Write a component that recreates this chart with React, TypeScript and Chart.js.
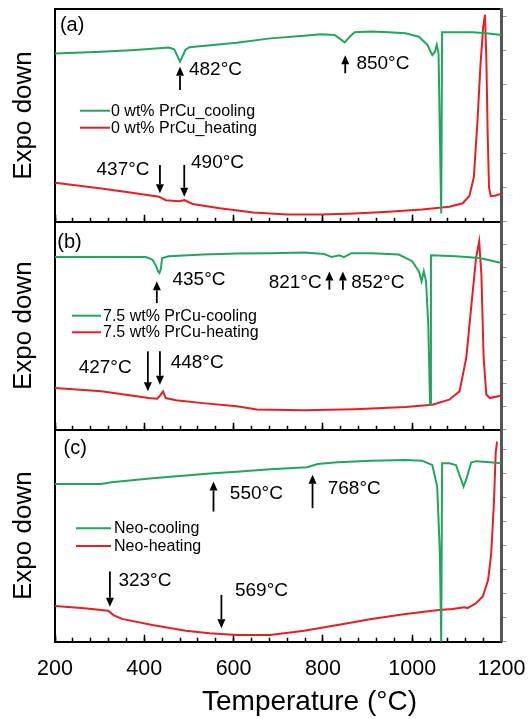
import React, { useEffect, useRef } from 'react';
import { Chart, registerables } from 'chart.js';

Chart.register(...registerables);

const FONT = '"Liberation Sans", Arial, Helvetica, sans-serif';
const GREEN = 'rgb(34,166,92)';
const RED = 'rgb(232,30,34)';

// ---------- Data (temperature °C, signal in arbitrary units) ----------
// Panel (a) 0 wt% PrCu
const aCoolT = [200, 304, 380, 455, 467, 474, 480, 486, 492, 501, 607, 682, 758, 796, 826, 837, 849, 860, 871, 909, 947, 985, 1015, 1034, 1045, 1051, 1055, 1059, 1062, 1065, 1067, 1136, 1166, 1200];
const aCoolV = [4.92, 4.97, 5.02, 5.09, 5.04, 4.85, 4.68, 4.85, 5.02, 5.1, 5.23, 5.36, 5.44, 5.48, 5.46, 5.36, 5.24, 5.41, 5.54, 5.56, 5.54, 5.51, 5.41, 5.17, 4.87, 4.97, 5.17, 4.92, 2.58, 0.24, 5.54, 5.54, 5.51, 5.46];
const aHeatT = [200, 304, 380, 433, 448, 478, 490, 508, 569, 644, 720, 796, 871, 947, 1022, 1083, 1113, 1128, 1138, 1146, 1153, 1159, 1163, 1166, 1169, 1172, 1176, 1185, 1200];
const aHeatV = [1.14, 0.97, 0.83, 0.73, 0.63, 0.6, 0.63, 0.52, 0.39, 0.27, 0.21, 0.21, 0.24, 0.29, 0.36, 0.44, 0.54, 0.75, 1.3, 2.9, 4.6, 5.7, 6.05, 4.8, 2.6, 1.0, 0.75, 0.76, 0.82];

// Panel (b) 7.5 wt% PrCu
const bCoolT = [200, 304, 403, 418, 426, 431, 434, 437, 440, 455, 531, 607, 682, 758, 803, 820, 830, 837, 847, 864, 909, 970, 1000, 1015, 1021, 1026, 1031, 1036, 1040, 1042, 1098, 1151, 1200];
const bCoolV = [7.47, 7.47, 7.47, 7.36, 7.1, 6.85, 6.78, 6.95, 7.43, 7.5, 7.58, 7.62, 7.64, 7.67, 7.6, 7.47, 7.52, 7.55, 7.47, 7.64, 7.64, 7.58, 7.29, 6.85, 6.42, 6.85, 6.42, 4.55, 1.08, 7.55, 7.5, 7.43, 7.21];
const bHeatT = [200, 304, 410, 429, 437, 442, 448, 471, 531, 607, 652, 758, 871, 985, 1045, 1083, 1106, 1121, 1132, 1143, 1150, 1155, 1160, 1166, 1174, 1200];
const bHeatV = [1.8, 1.66, 1.37, 1.34, 1.52, 1.66, 1.37, 1.27, 1.15, 1.01, 0.87, 0.84, 0.89, 0.98, 1.08, 1.3, 1.66, 3.1, 5.27, 7.43, 8.15, 6.71, 3.1, 1.52, 1.37, 1.48];

// Panel (c) Neo
const cCoolT = [200, 304, 327, 418, 493, 554, 607, 682, 765, 788, 833, 909, 985, 1022, 1045, 1056, 1062, 1065, 1067, 1083, 1098, 1107, 1115, 1122, 1132, 1143, 1174, 1200];
const cCoolV = [6.57, 6.57, 6.64, 6.81, 6.92, 7.02, 7.08, 7.18, 7.27, 7.4, 7.47, 7.54, 7.57, 7.54, 7.36, 6.46, 3.68, 0.0, 7.43, 7.43, 7.36, 6.88, 6.46, 6.81, 7.46, 7.52, 7.47, 7.43];
const cHeatT = [200, 266, 319, 331, 350, 418, 493, 546, 607, 682, 758, 833, 909, 985, 1060, 1090, 1117, 1124, 1143, 1158, 1170, 1177, 1183, 1187, 1190];
const cHeatV = [1.49, 1.39, 1.29, 1.11, 0.95, 0.7, 0.46, 0.35, 0.28, 0.28, 0.46, 0.7, 0.95, 1.15, 1.32, 1.36, 1.43, 1.4, 1.6, 1.88, 2.57, 3.68, 5.77, 7.85, 8.33];

// Series labels
const aLabels = ['0 wt% PrCu_cooling', '0 wt% PrCu_heating'];
const bLabels = ['7.5 wt% PrCu-cooling', '7.5 wt% PrCu-heating'];
const cLabels = ['Neo-cooling', 'Neo-heating'];

// Axis
const X_MIN = 200;
const X_MAX = 1200;
const X_MINOR_STEP = 40;
const X_MAJOR_STEP = 200;
const X_TITLE = 'Temperature (°C)';
const Y_TITLE = 'Expo down';

// Annotated transition temperatures (arrow at temperature t, from -> to in signal units)
const aArrows = [
  { t: 480, from: 3.85, to: 4.53 },
  { t: 850, from: 4.34, to: 4.87 },
  { t: 435, from: 1.66, to: 0.83 },
  { t: 489.5, from: 1.66, to: 0.73 },
];
const aNotes = [
  { t: 500, v: 4.44, text: '482°C' },
  { t: 875, v: 4.63, text: '850°C' },
  { t: 293, v: 1.51, text: '437°C' },
  { t: 504.6, v: 1.71, text: '490°C' },
];
const bArrows = [
  { t: 428, from: 5.48, to: 6.42 },
  { t: 814.5, from: 6.06, to: 6.85 },
  { t: 844.8, from: 6.06, to: 6.85 },
  { t: 408, from: 3.39, to: 1.66 },
  { t: 435, from: 3.39, to: 1.95 },
];
const bNotes = [
  { t: 463, v: 6.49, text: '435°C' },
  { t: 678.5, v: 6.35, text: '821°C' },
  { t: 863.7, v: 6.35, text: '852°C' },
  { t: 253, v: 2.67, text: '427°C' },
  { t: 459, v: 2.89, text: '448°C' },
];
const cArrows = [
  { t: 555, from: 5.42, to: 6.67 },
  { t: 776.8, from: 5.56, to: 6.95 },
  { t: 323, from: 2.92, to: 1.46 },
  { t: 572.7, from: 1.95, to: 0.56 },
];
const cNotes = [
  { t: 591.6, v: 6.18, text: '550°C' },
  { t: 810.8, v: 6.35, text: '768°C' },
  { t: 342, v: 2.54, text: '323°C' },
  { t: 603, v: 2.13, text: '569°C' },
];

// ---------- Layout (pixels) ----------
const W = 531;
const H = 719;
const PLOT_LEFT = 55;
const PLOT_RIGHT = 501.5;

type Panel = {
  key: string;
  tag: string;
  tagPos: { t: number; v: number };
  top: number;
  bottom: number;
  yMax: number;
  coolT: number[];
  coolV: number[];
  heatT: number[];
  heatV: number[];
  labels: string[];
  arrows: { t: number; from: number; to: number }[];
  notes: { t: number; v: number; text: string }[];
  legend: { x0: number; x1: number; tx: number; y1: number; y2: number };
  isBottom: boolean;
};

const panels: Panel[] = [
  {
    key: 'a', tag: '(a)', tagPos: { t: 211, v: 5.75 }, top: 9.3, bottom: 221.7, yMax: 6.21,
    coolT: aCoolT, coolV: aCoolV, heatT: aHeatT, heatV: aHeatV, labels: aLabels,
    arrows: aArrows, notes: aNotes,
    legend: { x0: 80, x1: 110, tx: 111, y1: 110.7, y2: 127.7 }, isBottom: false,
  },
  {
    key: 'b', tag: '(b)', tagPos: { t: 205, v: 8.08 }, top: 221.7, bottom: 429.7, yMax: 9.0,
    coolT: bCoolT, coolV: bCoolV, heatT: bHeatT, heatV: bHeatV, labels: bLabels,
    arrows: bArrows, notes: bNotes,
    legend: { x0: 72, x1: 101, tx: 103, y1: 315.7, y2: 332.3 }, isBottom: false,
  },
  {
    key: 'c', tag: '(c)', tagPos: { t: 219, v: 8.06 }, top: 429.7, bottom: 641.7, yMax: 8.83,
    coolT: cCoolT, coolV: cCoolV, heatT: cHeatT, heatV: cHeatV, labels: cLabels,
    arrows: cArrows, notes: cNotes,
    legend: { x0: 76, x1: 111, tx: 114, y1: 528.3, y2: 546 }, isBottom: true,
  },
];

const toXY = (xs: number[], ys: number[]) => xs.map((x, i) => ({ x, y: ys[i] }));

function PanelChart({ panel }: { panel: Panel }) {
  const ref = useRef<HTMLCanvasElement>(null);

  useEffect(() => {
    const p = panel;
    const overlay = {
      id: 'overlay' + p.key,
      afterDatasetsDraw(chart: any) {
        const { ctx } = chart;
        const xs = chart.scales.x;
        const ys = chart.scales.y;
        ctx.save();
        // arrows
        ctx.strokeStyle = '#000';
        ctx.fillStyle = '#000';
        ctx.lineWidth = 1.8;
        for (const a of p.arrows) {
          const px = xs.getPixelForValue(a.t);
          const y1 = ys.getPixelForValue(a.from);
          const y2 = ys.getPixelForValue(a.to);
          const dir = Math.sign(y2 - y1);
          const hl = 9;
          const hw = 4;
          ctx.beginPath();
          ctx.moveTo(px, y1);
          ctx.lineTo(px, y2 - dir * hl);
          ctx.stroke();
          ctx.beginPath();
          ctx.moveTo(px, y2);
          ctx.lineTo(px - hw, y2 - dir * hl);
          ctx.lineTo(px + hw, y2 - dir * hl);
          ctx.closePath();
          ctx.fill();
        }
        // temperature notes
        ctx.font = `19px ${FONT}`;
        ctx.textAlign = 'left';
        ctx.textBaseline = 'middle';
        for (const n of p.notes) {
          ctx.fillText(n.text, xs.getPixelForValue(n.t), ys.getPixelForValue(n.v));
        }
        // panel tag
        ctx.font = `20px ${FONT}`;
        ctx.fillText(p.tag, xs.getPixelForValue(p.tagPos.t), ys.getPixelForValue(p.tagPos.v));
        // legend
        ctx.font = `16px ${FONT}`;
        const rows = [p.legend.y1, p.legend.y2];
        chart.data.datasets.forEach((ds: any, i: number) => {
          const yy = rows[i];
          ctx.strokeStyle = ds.borderColor;
          ctx.lineWidth = 2;
          ctx.beginPath();
          ctx.moveTo(p.legend.x0, yy);
          ctx.lineTo(p.legend.x1, yy);
          ctx.stroke();
          ctx.fillStyle = '#000';
          ctx.fillText(ds.label, p.legend.tx, yy + 0.5);
        });
        // x-axis title (bottom panel only)
        if (p.isBottom) {
          ctx.font = `28px ${FONT}`;
          ctx.textAlign = 'center';
          ctx.fillStyle = '#000';
          ctx.fillText(X_TITLE, xs.getPixelForValue(770), chart.chartArea.bottom + 61);
        }
        ctx.restore();
      },
    };

    const chart = new Chart(ref.current as HTMLCanvasElement, {
      type: 'line',
      data: {
        datasets: [
          {
            label: p.labels[0],
            data: toXY(p.coolT, p.coolV),
            borderColor: GREEN,
            backgroundColor: GREEN,
            borderWidth: 2,
            pointRadius: 0,
            tension: 0,
            fill: false,
          },
          {
            label: p.labels[1],
            data: toXY(p.heatT, p.heatV),
            borderColor: RED,
            backgroundColor: RED,
            borderWidth: 2,
            pointRadius: 0,
            tension: 0,
            fill: false,
          },
        ],
      },
      options: {
        animation: false,
        responsive: false,
        events: [],
        layout: { padding: { top: p.top, bottom: p.isBottom ? 0 : H - p.bottom, left: 0, right: 0 } },
        plugins: {
          legend: { display: false },
          tooltip: { enabled: false },
          title: { display: false },
        },
        scales: {
          x: {
            type: 'linear',
            position: 'bottom',
            weight: 0,
            min: X_MIN,
            max: X_MAX,
            ticks: { display: false, stepSize: X_MINOR_STEP, autoSkip: false },
            grid: { drawOnChartArea: false, drawTicks: true, tickLength: -4, tickColor: '#000', tickWidth: 1.5 },
            border: { display: true, color: '#000', width: 2 },
            afterFit: (s: any) => { s.height = 0; s.paddingLeft = 0; s.paddingRight = 0; },
          },
          xM: {
            type: 'linear',
            position: 'bottom',
            weight: 1,
            min: X_MIN,
            max: X_MAX,
            ticks: {
              display: p.isBottom,
              stepSize: X_MAJOR_STEP,
              autoSkip: false,
              maxRotation: 0,
              padding: 21,
              color: '#000',
              font: { family: FONT, size: 21.5 },
              callback: (v: any) => String(v),
            },
            grid: { drawOnChartArea: false, drawTicks: true, tickLength: -7, tickColor: '#000', tickWidth: 1.5 },
            border: { display: false },
            afterFit: (s: any) => {
              s.height = p.isBottom ? H - p.bottom : 0;
              s.paddingLeft = 0;
              s.paddingRight = 0;
            },
          },
          xT: {
            type: 'linear',
            position: 'top',
            min: X_MIN,
            max: X_MAX,
            ticks: { display: false },
            grid: { display: false },
            border: { display: true, color: '#000', width: 2 },
            afterFit: (s: any) => { s.height = 0; s.paddingLeft = 0; s.paddingRight = 0; },
          },
          y: {
            type: 'linear',
            position: 'left',
            min: 0,
            max: p.yMax,
            ticks: { display: false },
            grid: { display: false },
            border: { display: true, color: '#000', width: 2 },
            title: {
              display: true,
              text: Y_TITLE,
              color: '#000',
              font: { family: FONT, size: 26 },
              padding: { top: 8.4, bottom: 0 },
            },
            afterFit: (s: any) => { s.width = PLOT_LEFT; },
          },
          yR: {
            type: 'linear',
            position: 'right',
            min: 0,
            max: p.yMax,
            ticks: { display: false, stepSize: 1, includeBounds: false },
            grid: { drawOnChartArea: false, drawTicks: true, tickLength: 5, tickColor: '#999', tickWidth: 1 },
            border: { display: true, color: '#555', width: 3 },
            afterFit: (s: any) => { s.width = W - PLOT_RIGHT; },
          },
        },
      } as any,
      plugins: [overlay],
    });
    return () => chart.destroy();
  }, [panel]);

  return (
    <canvas
      ref={ref}
      width={W}
      height={H}
      style={{ position: 'absolute', left: 0, top: 0, width: W, height: H }}
    />
  );
}

export default function App() {
  return (
    <div style={{ position: 'absolute', left: 0, top: 0, width: W, height: H, background: '#fff', overflow: 'hidden' }}>
      {panels.map((p) => (
        <PanelChart key={p.key} panel={p} />
      ))}
    </div>
  );
}
